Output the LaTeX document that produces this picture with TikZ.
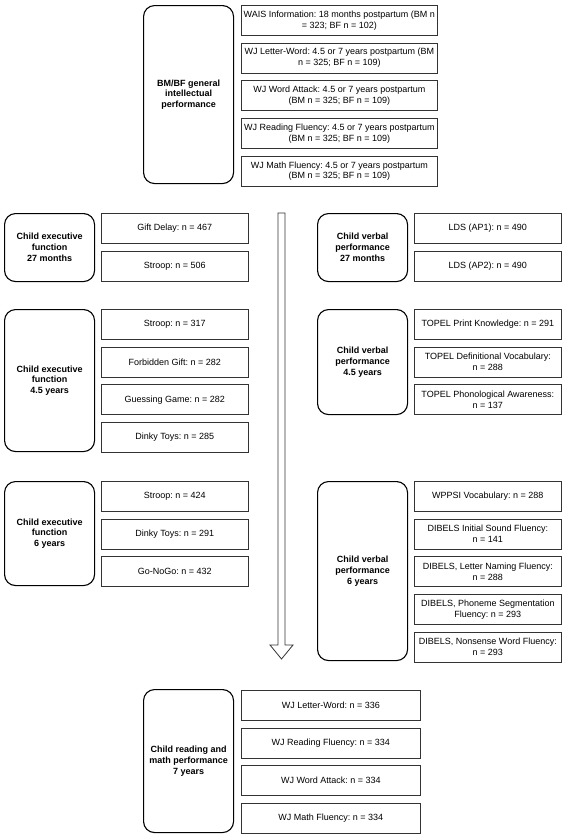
\documentclass[tikz,border=0pt]{standalone}
\usepackage{fontspec}
\setmainfont{Liberation Sans}
\usetikzlibrary{positioning}
\frenchspacing

\tikzset{
    stagebox/.style={rectangle, rounded corners=11pt, draw=black, line width=1.1pt, minimum width=90pt, align=center, anchor=north west, font=\fontsize{9}{10.8}\selectfont\bfseries},
    measure/.style={rectangle, draw=black!80, line width=0.7pt, minimum height=30pt, inner sep=1.5pt, align=center, font=\fontsize{9}{10.8}\selectfont},
    flow/.style={draw=black!80, line width=0.8pt, fill=white}
}

\begin{document}
\begin{tikzpicture}[x=1pt, y=-1pt]
    \useasboundingbox (0,0) rectangle (566,836);

    % parental performance
    \begin{scope}[node distance=7pt]
    \node (bmbf) [stagebox, minimum height=178pt] at (143,5) {BM/BF general\\intellectual\\performance};
    \node (wais) [measure, minimum width=196pt, anchor=north west] at (241,5) {WAIS Information: 18 months postpartum (BM n\\= 323; BF n = 102)};
    \node (bmlw) [measure, minimum width=196pt, below = of wais] {WJ Letter-Word: 4.5 or 7 years postpartum (BM\\n = 325; BF n = 109)};
    \node (bmwa) [measure, minimum width=196pt, below = of bmlw] {WJ Word Attack: 4.5 or 7 years postpartum\\(BM n = 325; BF n = 109)};
    \node (bmrf) [measure, minimum width=196pt, below = of bmwa] {WJ Reading Fluency: 4.5 or 7 years postpartum\\(BM n = 325; BF n = 109)};
    \node (bmmf) [measure, minimum width=196pt, below = of bmrf] {WJ Math Fluency: 4.5 or 7 years postpartum\\(BM n = 325; BF n = 109)};
    \end{scope}

    % executive function
    \begin{scope}[node distance=7pt]
    \node (ef27) [stagebox, minimum height=68pt] at (4,213) {Child executive\\function\\27 months};
    \node (ef27a) [measure, minimum width=147pt, anchor=north west] at (101,213) {Gift Delay: n = 467};
    \node (ef27b) [measure, minimum width=147pt, below = of ef27a] {Stroop: n = 506};

    \node (ef45) [stagebox, minimum height=142pt] at (4,309) {Child executive\\function\\4.5 years};
    \node (ef45a) [measure, minimum width=147pt, anchor=north west] at (101,309) {Stroop: n = 317};
    \node (ef45b) [measure, minimum width=147pt, below = of ef45a] {Forbidden Gift: n = 282};
    \node (ef45c) [measure, minimum width=147pt, below = of ef45b] {Guessing Game: n = 282};
    \node (ef45d) [measure, minimum width=147pt, below = of ef45c] {Dinky Toys: n = 285};

    \node (ef6) [stagebox, minimum height=104pt] at (4,481) {Child executive\\function\\6 years};
    \node (ef6a) [measure, minimum width=147pt, anchor=north west] at (101,481) {Stroop: n = 424};
    \node (ef6b) [measure, minimum width=147pt, below = of ef6a] {Dinky Toys: n = 291};
    \node (ef6c) [measure, minimum width=147pt, below = of ef6b] {Go-NoGo: n = 432};
    \end{scope}

    % verbal performance
    \begin{scope}[node distance=7pt]
    \node (vb27) [stagebox, minimum height=68pt] at (317,213) {Child verbal\\performance\\27 months};
    \node (vb27a) [measure, minimum width=147pt, anchor=north west] at (414,213) {LDS (AP1): n = 490};
    \node (vb27b) [measure, minimum width=147pt, below = of vb27a] {LDS (AP2): n = 490};

    \node (vb45) [stagebox, minimum height=105pt] at (317,309) {Child verbal\\performance\\4.5 years};
    \node (vb45a) [measure, minimum width=147pt, anchor=north west] at (414,309) {TOPEL Print Knowledge: n = 291};
    \node (vb45b) [measure, minimum width=147pt, below = of vb45a] {TOPEL Definitional Vocabulary:\\n = 288};
    \node (vb45c) [measure, minimum width=147pt, below = of vb45b] {TOPEL Phonological Awareness:\\n = 137};

    \node (vb6) [stagebox, minimum height=179pt] at (317,481) {Child verbal\\performance\\6 years};
    \node (vb6a) [measure, minimum width=147pt, anchor=north west] at (414,481) {WPPSI Vocabulary: n = 288};
    \node (vb6b) [measure, minimum width=147pt, below = of vb6a] {DIBELS Initial Sound Fluency:\\n = 141};
    \node (vb6c) [measure, minimum width=147pt, below = of vb6b] {DIBELS, Letter Naming Fluency:\\n = 288};
    \node (vb6d) [measure, minimum width=147pt, below = of vb6c] {DIBELS, Phoneme Segmentation\\Fluency: n = 293};
    \node (vb6e) [measure, minimum width=147pt, below = of vb6d] {DIBELS, Nonsense Word Fluency:\\n = 293};
    \end{scope}

    % time arrow
    \draw [flow] (278,213) -- (285,213) -- (285,645) -- (293,645) -- (281.5,659) -- (270,645) -- (278,645) -- cycle;

    % outcome
    \begin{scope}[node distance=7pt]
    \node (rd7) [stagebox, minimum height=143pt] at (143,689) {Child reading and\\math performance\\7 years};
    \node (rd7a) [measure, minimum width=179pt, anchor=north west] at (241,690) {WJ Letter-Word: n = 336};
    \node (rd7b) [measure, minimum width=179pt, below = of rd7a] {WJ Reading Fluency: n = 334};
    \node (rd7c) [measure, minimum width=179pt, below = of rd7b] {WJ Word Attack: n = 334};
    \node (rd7d) [measure, minimum width=179pt, below = of rd7c] {WJ Math Fluency: n = 334};
    \end{scope}
\end{tikzpicture}
\end{document}
